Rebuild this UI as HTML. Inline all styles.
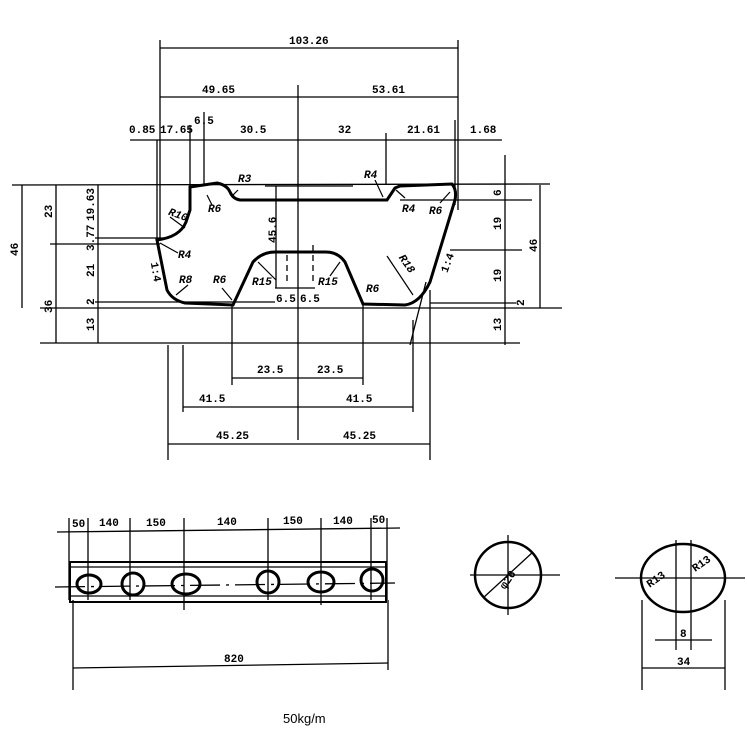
<!DOCTYPE html>
<html><head><style>body{margin:0;background:#fff}svg{display:block}text{font-family:"Liberation Mono","Liberation Sans",monospace;font-weight:bold;font-size:11px;fill:#000}</style></head><body>
<svg width="747" height="747" viewBox="0 0 747 747" xmlns="http://www.w3.org/2000/svg">
<g stroke="#000" stroke-width="1.3" fill="none">
<line x1="160" y1="40" x2="160" y2="240"/><line x1="157" y1="140" x2="157" y2="240"/>
<line x1="458" y1="40" x2="458" y2="210"/><line x1="455" y1="120" x2="455" y2="205"/>
<line x1="160" y1="48" x2="458" y2="48"/>
<line x1="160" y1="97" x2="458" y2="97"/>
<line x1="298" y1="85" x2="298" y2="440"/>
<line x1="130" y1="140" x2="502" y2="140"/>
<line x1="190" y1="125" x2="190" y2="190"/><line x1="204" y1="112" x2="204" y2="186"/><line x1="386" y1="133" x2="386" y2="185"/>
<line x1="12" y1="185" x2="550" y2="184"/>
<line x1="40" y1="308" x2="562" y2="308"/>
<line x1="40" y1="343" x2="520" y2="343"/>
<line x1="22" y1="185" x2="22" y2="308"/><line x1="56" y1="185" x2="56" y2="343"/><line x1="50" y1="244" x2="160" y2="244"/>
<line x1="98" y1="185" x2="98" y2="343"/><line x1="95" y1="238" x2="165" y2="238"/><line x1="95" y1="302" x2="275" y2="302"/>
<line x1="505" y1="155" x2="505" y2="345"/><line x1="540" y1="185" x2="540" y2="308"/>
<line x1="400" y1="200" x2="532" y2="200"/><line x1="450" y1="250" x2="522" y2="250"/><line x1="430" y1="303" x2="516" y2="303"/>
<line x1="276" y1="186" x2="276" y2="288"/><line x1="265" y1="186" x2="353" y2="186"/><line x1="275" y1="288" x2="315" y2="288"/>
<line x1="287" y1="255" x2="287" y2="285" stroke-dasharray="6,4"/><line x1="313" y1="245" x2="313" y2="285" stroke-dasharray="6,4"/>
<line x1="232" y1="305" x2="232" y2="385"/><line x1="363" y1="305" x2="363" y2="385"/>
<line x1="183" y1="345" x2="183" y2="412"/><line x1="413" y1="320" x2="413" y2="412"/>
<line x1="168" y1="345" x2="168" y2="460"/><line x1="430" y1="290" x2="430" y2="460"/><line x1="426" y1="282" x2="410" y2="345"/>
<line x1="232" y1="378" x2="363" y2="378"/><line x1="183" y1="407" x2="413" y2="407"/><line x1="168" y1="444" x2="430" y2="444"/>
</g>
<path d="M190,187 L217,183 Q227,185 230,192 Q233,199 240,200 L387,200 L395,188 L400,186 L452,184 Q457,190 455,200 L430,282 Q420,303 405,305 L363,304 L345,262 Q338,252 326,252 L275,252 Q262,252 253,262 L233,305 L185,303 Q172,300 167,290 L157,240 Q180,237 186,222 L190,210 Z" stroke="#000" stroke-width="3" fill="none"/>
<g stroke="#000" stroke-width="1.2">
<line x1="238" y1="190" x2="232" y2="196"/><line x1="207" y1="195" x2="212" y2="205"/><line x1="170" y1="217" x2="185" y2="228"/><line x1="160" y1="243" x2="178" y2="253"/>
<line x1="176" y1="295" x2="188" y2="285"/><line x1="232" y1="300" x2="222" y2="288"/><line x1="258" y1="262" x2="276" y2="280"/><line x1="340" y1="262" x2="330" y2="276"/>
<line x1="387" y1="256" x2="413" y2="295"/><line x1="375" y1="180" x2="383" y2="197"/><line x1="396" y1="190" x2="405" y2="198"/><line x1="440" y1="203" x2="450" y2="192"/>
</g>
<text x="289" y="44">103.26</text><text x="202" y="93">49.65</text><text x="372" y="93">53.61</text>
<text x="129" y="133">0.85</text><text x="160" y="133">17.65</text><text x="194" y="124">6.5</text><text x="240" y="133">30.5</text><text x="338" y="133">32</text><text x="407" y="133">21.61</text><text x="470" y="133">1.68</text>
<text x="238" y="182" font-style="italic">R3</text><text x="208" y="212" font-style="italic">R6</text><text x="168" y="217" font-style="italic" transform="rotate(20 175 215)">R10</text>
<text x="178" y="258" font-style="italic">R4</text><text x="179" y="283" font-style="italic">R8</text><text x="213" y="283" font-style="italic">R6</text><text x="252" y="285" font-style="italic">R15</text><text x="318" y="285" font-style="italic">R15</text>
<text x="366" y="292" font-style="italic">R6</text><text x="393" y="262" font-style="italic" transform="rotate(55 400 265)">R18</text>
<text x="364" y="178" font-style="italic">R4</text><text x="402" y="212" font-style="italic">R4</text><text x="429" y="214" font-style="italic">R6</text>
<text x="276" y="302">6.5</text><text x="300" y="302">6.5</text>
<text x="143" y="268" transform="rotate(80 150 270)">1:4</text><text x="438" y="270" transform="rotate(-70 445 265)">1:4</text>
<text x="264" y="239" transform="rotate(-90 272 235)">45.6</text>
<g transform="rotate(-90)">
<text x="-256" y="18">46</text><text x="-218" y="52">23</text><text x="-313" y="52">36</text>
<text x="-221" y="94">19.63</text><text x="-251" y="94">3.77</text><text x="-277" y="94">21</text><text x="-305" y="94">2</text><text x="-331" y="94">13</text>
<text x="-196" y="501">6</text><text x="-230" y="501">19</text><text x="-282" y="501">19</text><text x="-306" y="524">2</text><text x="-331" y="501">13</text><text x="-252" y="537">46</text>
</g>
<text x="257" y="373">23.5</text><text x="317" y="373">23.5</text><text x="199" y="402">41.5</text><text x="346" y="402">41.5</text><text x="216" y="439">45.25</text><text x="343" y="439">45.25</text>
<g stroke="#000" stroke-width="1.3" fill="none">
<line x1="57" y1="532" x2="400" y2="528"/>
<line x1="69" y1="518" x2="69" y2="600"/><line x1="88" y1="518" x2="88" y2="600"/><line x1="130" y1="518" x2="130" y2="600"/><line x1="184" y1="518" x2="184" y2="610"/><line x1="268" y1="518" x2="268" y2="600"/><line x1="321" y1="518" x2="321" y2="605"/><line x1="371" y1="518" x2="371" y2="600"/><line x1="387" y1="518" x2="387" y2="600"/>
<rect x="70" y="562" width="316" height="40" stroke-width="2"/><line x1="70" y1="567" x2="386" y2="567"/><line x1="70" y1="596" x2="386" y2="596"/>
<line x1="55" y1="587" x2="395" y2="583" stroke-dasharray="30,6,3,6"/>
<g stroke-width="3"><ellipse cx="89" cy="584" rx="12" ry="9"/><ellipse cx="133" cy="584" rx="11" ry="11"/><ellipse cx="186" cy="584" rx="14" ry="10"/><ellipse cx="268" cy="582" rx="11" ry="11"/><ellipse cx="321" cy="582" rx="13" ry="10"/><ellipse cx="372" cy="580" rx="11" ry="11"/></g>
<line x1="73" y1="600" x2="73" y2="690"/><line x1="388" y1="600" x2="388" y2="670"/><line x1="73" y1="668" x2="388" y2="663"/>
<circle cx="508" cy="575" r="33" stroke-width="2.5"/><line x1="470" y1="575" x2="560" y2="575"/><line x1="508" y1="535" x2="508" y2="615"/><line x1="483" y1="598" x2="533" y2="552"/>
<ellipse cx="683" cy="578" rx="42" ry="34" stroke-width="2.5"/><line x1="615" y1="578" x2="745" y2="578"/><line x1="676" y1="540" x2="676" y2="650"/><line x1="691" y1="540" x2="691" y2="650"/>
<line x1="655" y1="640" x2="712" y2="640"/><line x1="642" y1="600" x2="642" y2="690"/><line x1="725" y1="600" x2="725" y2="690"/><line x1="642" y1="668" x2="725" y2="668"/>
</g>
<text x="72" y="527">50</text><text x="99" y="526">140</text><text x="146" y="526">150</text><text x="217" y="525">140</text><text x="283" y="524">150</text><text x="333" y="524">140</text><text x="372" y="523">50</text>
<text x="224" y="662">820</text>
<text x="494" y="583" transform="rotate(-55 506 576)">φ26</text>
<text x="645" y="583" transform="rotate(-35 655 578)">R13</text><text x="692" y="568" transform="rotate(-35 700 565)">R13</text>
<text x="680" y="637">8</text><text x="677" y="665">34</text>
<text x="283" y="723" style="font-size:13px;font-family:'Liberation Sans',sans-serif;font-weight:normal">50kg/m</text>
</svg>
</body></html>
